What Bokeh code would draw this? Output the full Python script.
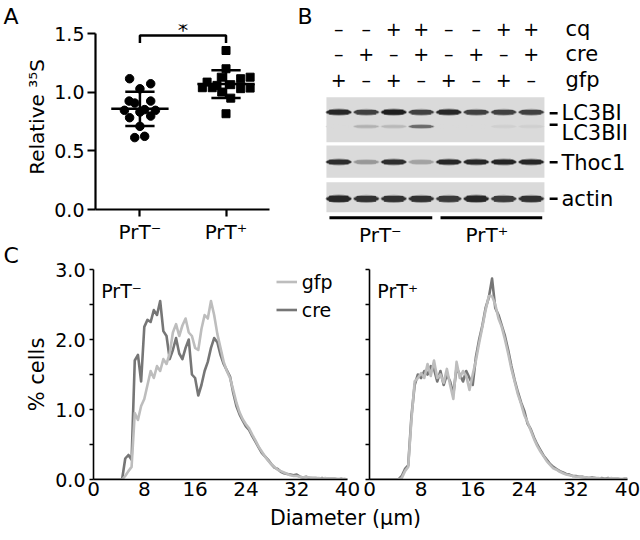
import numpy as np
from bokeh.plotting import figure
from bokeh.layouts import column, row
from bokeh.models import (Range1d, FixedTicker, Legend, LegendItem,
                          PrintfTickFormatter)
from bokeh.embed import file_html
from bokeh.resources import INLINE
from bokeh.core.properties import value

FONT = "DejaVu Sans"

# ---------------- data ----------------
groups = ["PrT⁻", "PrT⁺"]
panel_letters = ["A", "B", "C"]

# Panel A: relative 35S incorporation
prt_minus_35s = [1.117, 1.031, 1.074, 0.926, 0.909, 0.926, 0.847, 0.832,
                 0.853, 0.847, 0.784, 0.798, 0.710, 0.614, 0.625]
prt_minus_jitter = [-0.12, 0.0, 0.125, -0.125, -0.06, 0.125, -0.18, 0.0,
                    0.055, 0.18, -0.12, 0.125, 0.0, -0.06, 0.055]
prt_plus_35s = [1.358, 1.202, 1.130, 1.117, 1.130, 1.088, 1.040, 1.040,
                1.060, 1.066, 1.032, 1.037, 1.003, 0.951, 0.818]
prt_plus_jitter = [0.0, 0.0, -0.055, 0.17, 0.28, -0.22, -0.275, -0.16,
                   -0.105, 0.055, 0.17, 0.28, -0.05, 0.055, 0.0]

# Panel B: western blot
lanes = [0, 1, 2, 3, 4, 5, 6, 7]
cq_signs = ["-", "-", "+", "+", "-", "-", "+", "+"]
cre_signs = ["-", "+", "-", "+", "-", "+", "-", "+"]
gfp_signs = ["+", "-", "+", "-", "+", "-", "+", "-"]
treatments = ["cq", "cre", "gfp"]
lc3bi = [0.95, 0.82, 1.0, 0.82, 0.95, 0.82, 0.82, 0.82]
lc3bii = [0.0, 0.22, 0.18, 0.6, 0.0, 0.0, 0.06, 0.06]
thoc1 = [0.92, 0.35, 0.92, 0.3, 0.95, 0.95, 0.97, 0.95]
actin = [0.95, 0.9, 0.9, 0.9, 0.85, 0.95, 0.85, 0.9]
proteins = ["LC3BI", "LC3BII", "Thoc1", "actin"]

# Panel C: size distributions (% cells per 0.5 um bin)
diameter_um = [i * 0.5 for i in range(81)]
prt_minus_gfp = [0, 0, 0, 0, 0, 0, 0, 0, 0, 0,
                 0.05, 0.12, 0.18, 0.95, 0.85, 1.05, 1.15, 1.35, 1.55, 1.45,
                 1.62, 1.55, 1.72, 1.65, 1.80, 2.10, 2.22, 2.05, 2.20, 2.30,
                 2.10, 2.05, 1.88, 1.85, 2.15, 2.35, 2.30, 2.55, 2.35, 2.08,
                 1.88, 1.68, 1.55, 1.45, 1.28, 1.10, 0.96, 0.86, 0.79, 0.73,
                 0.64, 0.56, 0.47, 0.40, 0.33, 0.27, 0.22, 0.18, 0.14, 0.12,
                 0.10, 0.08, 0.06, 0.05, 0.05, 0.04, 0.03, 0.03, 0.03, 0.02,
                 0.02, 0.02, 0.01, 0.02, 0.01, 0.01, 0.01, 0.01, 0.00, 0.01,
                 0.00]
prt_minus_cre = [0, 0, 0, 0, 0, 0, 0, 0, 0, 0,
                 0.30, 0.35, 0.28, 1.70, 1.78, 1.40, 2.18, 2.28, 2.25, 2.42,
                 2.35, 2.55, 2.12, 2.05, 1.72, 1.85, 2.02, 1.80, 1.72, 1.88,
                 2.00, 1.50, 1.45, 1.20, 1.35, 1.55, 1.68, 1.88, 2.02, 1.96,
                 1.78, 1.65, 1.56, 1.47, 1.24, 1.05, 0.93, 0.84, 0.76, 0.71,
                 0.62, 0.54, 0.46, 0.38, 0.33, 0.28, 0.22, 0.17, 0.15, 0.11,
                 0.09, 0.08, 0.07, 0.06, 0.07, 0.04, 0.03, 0.04, 0.02, 0.02,
                 0.02, 0.01, 0.02, 0.01, 0.01, 0.01, 0.01, 0.00, 0.01, 0.00,
                 0.00]
prt_plus_gfp = [0, 0, 0, 0, 0, 0, 0, 0, 0, 0,
                0.02, 0.12, 0.18, 0.85, 1.40, 1.45, 1.52, 1.45, 1.65, 1.48,
                1.70, 1.45, 1.50, 1.38, 1.58, 1.35, 1.15, 1.68, 1.45, 1.55,
                1.48, 1.28, 1.50, 1.70, 1.95, 2.18, 2.42, 2.62, 2.62, 2.50,
                2.30, 2.18, 2.00, 1.80, 1.58, 1.40, 1.22, 1.08, 0.92, 0.82,
                0.70, 0.58, 0.48, 0.40, 0.33, 0.26, 0.21, 0.16, 0.14, 0.11,
                0.09, 0.07, 0.06, 0.05, 0.04, 0.04, 0.03, 0.03, 0.02, 0.02,
                0.02, 0.02, 0.01, 0.01, 0.01, 0.02, 0.01, 0.01, 0.01, 0.00,
                0.01]
prt_plus_cre = [0, 0, 0, 0, 0, 0, 0, 0, 0, 0,
                0.05, 0.15, 0.20, 0.90, 1.35, 1.50, 1.45, 1.55, 1.50, 1.62,
                1.58, 1.40, 1.55, 1.35, 1.50, 1.40, 1.22, 1.60, 1.50, 1.40,
                1.55, 1.45, 1.35, 1.75, 2.00, 2.20, 2.45, 2.60, 2.87, 2.45,
                2.35, 2.20, 2.05, 1.85, 1.62, 1.42, 1.25, 1.10, 0.98, 0.80,
                0.72, 0.60, 0.50, 0.42, 0.34, 0.28, 0.22, 0.18, 0.15, 0.12,
                0.10, 0.08, 0.07, 0.05, 0.05, 0.04, 0.04, 0.03, 0.02, 0.03,
                0.02, 0.01, 0.02, 0.01, 0.02, 0.01, 0.01, 0.01, 0.00, 0.01,
                0.01]

GFP_COLOR = "#bdbdbd"
CRE_COLOR = "#767676"


def style_common(p):
    p.outline_line_color = None
    p.grid.visible = False
    p.background_fill_color = "white"
    p.border_fill_color = "white"


def bare(width, height, xr, yr):
    p = figure(width=width, height=height, x_range=xr, y_range=yr,
               x_axis_type=None, y_axis_type=None, output_backend="svg",
               toolbar_location=None, min_border_left=0, min_border_right=0,
               min_border_top=0, min_border_bottom=0, frame_align=False)
    style_common(p)
    return p


def txt(p, x, y, text, size, align="left"):
    p.text(x=x, y=y, text=text, text_align=align, text_baseline="middle",
           text_font=value(FONT), text_font_size=size, text_color="black")


# ---------------- panel letters column ----------------
pl = bare(22, 540, Range1d(0, 22), Range1d(540, 0))
txt(pl, [3, 3], [15.5, 255.0], [panel_letters[0], panel_letters[2]], "22px")

# ---------------- Panel A ----------------
pa = figure(width=268, height=246, x_range=Range1d(0.484, 2.505),
            y_range=Range1d(0, 1.58), output_backend="svg",
            toolbar_location=None, min_border_left=68, min_border_right=21,
            min_border_top=24, min_border_bottom=37, frame_align=False)
style_common(pa)

xm = [1 + j for j in prt_minus_jitter]
xp = [2 + j for j in prt_plus_jitter]
pa.scatter(xm, prt_minus_35s, marker="circle", size=8.5, color="black")
pa.scatter(xp, prt_plus_35s, marker="square", size=8, color="black")

for cx, vals in ((1, prt_minus_35s), (2, prt_plus_35s)):
    m = float(np.mean(vals))
    s = float(np.std(vals, ddof=1))
    pa.segment(x0=[cx - 0.333, cx - 0.17, cx - 0.17, cx],
               x1=[cx + 0.333, cx + 0.17, cx + 0.17, cx],
               y0=[m, m + s, m - s, m - s], y1=[m, m + s, m - s, m + s],
               line_width=2.5, color="black")

sig_y = 1.486
pa.line(x=[1, 1, 2, 2], y=[sig_y - 0.065, sig_y, sig_y, sig_y - 0.065],
        line_width=2.5, color="black")
txt(pa, [1.5], [1.528], ["*"], "21px", align="center")

yax = pa.yaxis[0]
yax.ticker = FixedTicker(ticks=[0, 0.5, 1.0, 1.5])
yax.bounds = (0, 1.5)
yax.formatter = PrintfTickFormatter(format="%.1f")
yax.axis_label = "Relative ³⁵S"
yax.axis_label_standoff = 2
xax = pa.xaxis[0]
xax.ticker = FixedTicker(ticks=[1, 2])
xax.major_label_overrides = {1: groups[0], 2: groups[1]}
for ax, out, sto in ((yax, 8, 3), (xax, 7, 3)):
    ax.axis_line_width = 2.2
    ax.axis_line_color = "black"
    ax.major_tick_line_width = 2.2
    ax.major_tick_line_color = "black"
    ax.major_tick_out = out
    ax.major_tick_in = 0
    ax.minor_tick_line_color = None
    ax.major_label_standoff = sto
    ax.major_label_text_font = FONT
    ax.major_label_text_font_size = "19px"
    ax.major_label_text_color = "black"
    ax.axis_label_text_font = FONT
    ax.axis_label_text_font_size = "20px"
    ax.axis_label_text_font_style = "normal"
    ax.axis_label_text_color = "black"
xax.major_label_text_font_size = "20px"

# ---------------- Panel B ----------------
pb = bare(350, 246, Range1d(-1.757, 10.975), Range1d(246, 0))

BG = 218


def band_color(i, bg=BG, dark=30):
    g = int(round(bg - i * (bg - dark)))
    return "#%02x%02x%02x" % (g, g, g)


# blot panels
pb.quad(left=[-0.45] * 3, right=[7.48] * 3, top=[96.7, 145.0, 181.7],
        bottom=[141.7, 177.3, 211.7], fill_color=band_color(0), line_color=None)

band_rows = [(lc3bi, 111.7, 4.8), (lc3bii, 126.0, 3.0),
             (thoc1, 161.5, 4.8), (actin, 198.3, 6.0)]
for inten, yc, base in band_rows:
    heights = [base * (0.65 + 0.35 * i) for i in inten]
    halo = [band_color(0.4 * i) for i in inten]
    core = [band_color(i) for i in inten]
    pb.ellipse(x=lanes, y=[yc] * 8, width=0.96, height=[h + 2.5 for h in heights],
               height_units="screen", fill_color=halo, line_color=None)
    pb.ellipse(x=lanes, y=[yc] * 8, width=0.9, height=heights,
               height_units="screen", fill_color=core, line_color=None)
    pb.rect(x=lanes, y=[yc] * 8, width=0.7, height=heights,
            height_units="screen", fill_color=core, line_color=None)

sign_map = {"-": "–", "+": "+"}
sign_rows = [28.3, 53.3, 79.0]
for signs, yc in zip((cq_signs, cre_signs, gfp_signs), sign_rows):
    txt(pb, lanes, [yc] * 8, [sign_map[s] for s in signs], "19px",
        align="center")
txt(pb, [8.245] * 3, sign_rows, treatments, "21px")

# marker dashes and protein labels
dash_y = [112.7, 124.3, 161.7, 198.3]
pb.segment(x0=[7.67] * 4, x1=[7.96] * 4, y0=dash_y, y1=dash_y,
           line_width=2.5, color="black")
txt(pb, [8.10] * 4, [112.5, 132.5, 162.0, 198.0], proteins, "21px")

# group underlines and labels
pb.segment(x0=[-0.34, 3.70], x1=[3.40, 7.40], y0=[217.3, 217.3],
           y1=[217.3, 217.3], line_width=3, color="black")
txt(pb, [1.51, 5.39], [234.0, 234.0], groups, "20px", align="center")
txt(pb, [-1.50], [15.5], [panel_letters[1]], "22px")


# ---------------- Panel C ----------------
def make_c(width, mbl, mbr, gfp, cre, tag, show_y_labels):
    p = figure(width=width, height=261, x_range=Range1d(0, 40),
               y_range=Range1d(0, 3), output_backend="svg",
               toolbar_location=None, min_border_left=mbl,
               min_border_right=mbr, min_border_top=23, min_border_bottom=28,
               frame_align=False)
    style_common(p)
    r_cre = p.line(diameter_um, cre, color=CRE_COLOR, line_width=2.6,
                   line_join="round")
    r_gfp = p.line(diameter_um, gfp, color=GFP_COLOR, line_width=2.6,
                   line_join="round")
    txt(p, [1.22], [2.70], [tag], "19px")
    ya = p.yaxis[0]
    ya.ticker = FixedTicker(ticks=[0, 1, 2, 3], minor_ticks=[0.5, 1.5, 2.5])
    if show_y_labels:
        ya.formatter = PrintfTickFormatter(format="%.1f")
        ya.axis_label = "% cells"
        ya.major_label_standoff = 4
        ya.axis_label_standoff = 3
    else:
        ya.major_label_overrides = {0: "", 1: "", 2: "", 3: ""}
        ya.major_label_standoff = 0
    ya.major_tick_out = 4
    ya.major_tick_in = 0
    ya.minor_tick_out = 4
    ya.minor_tick_in = 0
    ya.minor_tick_line_width = 1.5
    ya.minor_tick_line_color = "black"
    ya.major_tick_line_color = "black"
    xa = p.xaxis[0]
    xa.ticker = FixedTicker(ticks=[0, 8, 16, 24, 32, 40])
    xa.major_tick_out = 0
    xa.major_tick_in = 0
    xa.major_tick_line_color = None
    xa.minor_tick_line_color = None
    xa.major_label_standoff = 2
    for ax in (ya, xa):
        ax.axis_line_width = 1.6
        ax.axis_line_color = "black"
        ax.major_tick_line_width = 1.5
        ax.major_label_text_font = FONT
        ax.major_label_text_font_size = "19px"
        ax.major_label_text_color = "black"
        ax.axis_label_text_font = FONT
        ax.axis_label_text_font_size = "21px"
        ax.axis_label_text_font_style = "normal"
        ax.axis_label_text_color = "black"
    xa.major_label_text_font_size = "20px"
    return p, r_gfp, r_cre


pc1, g1, c1 = make_c(338, 68, 13, prt_minus_gfp, prt_minus_cre, groups[0], True)
pc2, g2, c2 = make_c(280, 9, 13, prt_plus_gfp, prt_plus_cre, groups[1], False)

legend = Legend(items=[LegendItem(label="gfp", renderers=[g1]),
                       LegendItem(label="cre", renderers=[c1])],
                location=(182.7, 156.8), orientation="vertical", padding=0,
                margin=0, spacing=3, glyph_width=21, glyph_height=25,
                label_standoff=5, label_text_font=FONT,
                label_text_font_size="19px", label_text_color="black",
                background_fill_alpha=0, border_line_color=None)
pc1.add_layout(legend)

# shared x-axis title strip
ps = bare(618, 33, Range1d(22, 640), Range1d(540, 507))
txt(ps, [345], [517.5], ["Diameter (μm)"], "20.5px", align="center")

layout = row(pl, column(row(pa, pb), row(pc1, pc2), ps))
open("out.html", "w").write(file_html(layout, INLINE))
